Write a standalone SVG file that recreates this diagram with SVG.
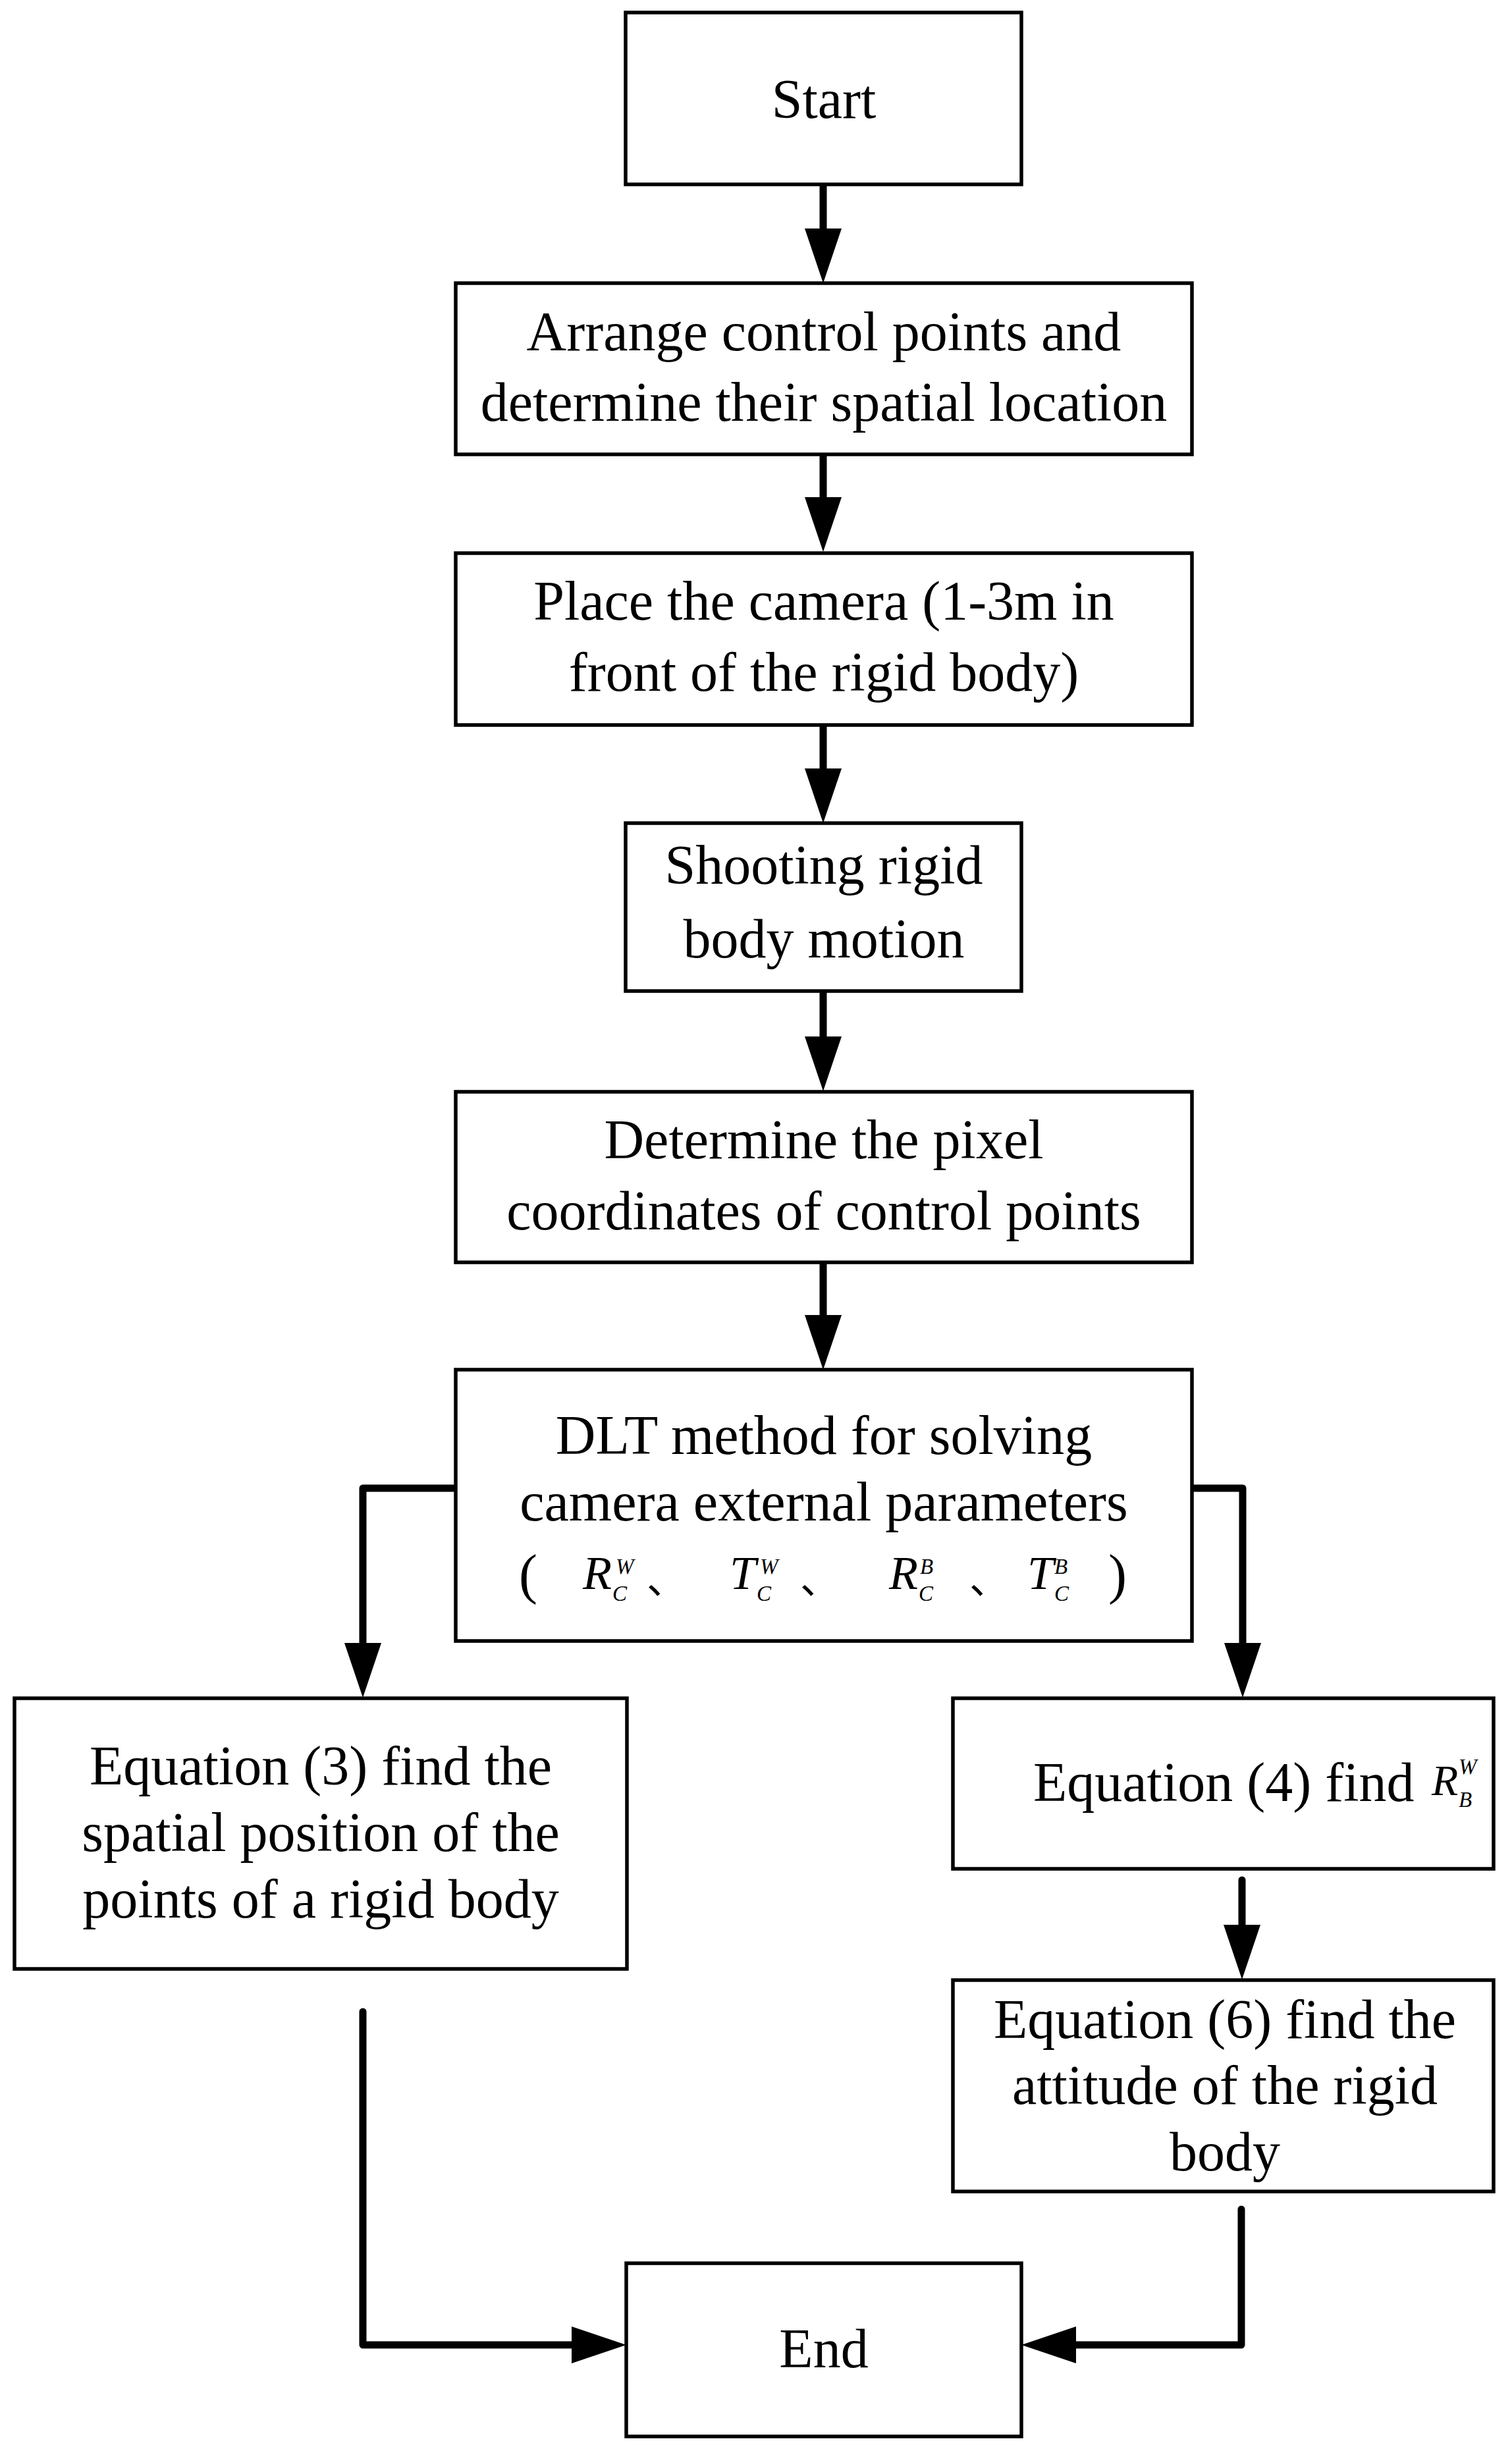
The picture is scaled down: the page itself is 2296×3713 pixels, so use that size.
<svg xmlns="http://www.w3.org/2000/svg" width="2296" height="3713" viewBox="0 0 2296 3713">
  <style>
    .box { fill: #ffffff; stroke: #000000; stroke-width: 5.5; }
    .t { font-family: "Liberation Serif", "Times New Roman", serif; font-size: 84px; fill: #000000; }
    .c { text-anchor: middle; }
    .m { font-family: "Liberation Serif", "Times New Roman", serif; font-style: italic; font-size: 72px; }
    .m2 { font-family: "Liberation Serif", "Times New Roman", serif; font-style: italic; font-size: 66px; }
    .s { font-family: "Liberation Serif", "Times New Roman", serif; font-style: italic; font-size: 33px; }
    .k { font-family: "Noto Sans CJK SC", "Liberation Serif", sans-serif; font-size: 60px; font-style: normal; }
    .con { fill: none; stroke: #000000; stroke-width: 11; stroke-linecap: round; stroke-linejoin: round; }
  </style>
  <defs>
    <marker id="arrow" viewBox="0 0 83 56" refX="0" refY="28" markerWidth="83" markerHeight="56" markerUnits="userSpaceOnUse" orient="auto">
      <path d="M0,0 L83,28 L0,56 Z" fill="#000000"/>
    </marker>
  </defs>
  <rect width="2296" height="3713" fill="#ffffff"/>

  <g id="connectors">
    <path class="con" d="M1250,280 V347" marker-end="url(#arrow)"/>
    <path class="con" d="M1250,690 V755" marker-end="url(#arrow)"/>
    <path class="con" d="M1250,1101 V1167" marker-end="url(#arrow)"/>
    <path class="con" d="M1250,1505 V1574" marker-end="url(#arrow)"/>
    <path class="con" d="M1250,1917 V1997" marker-end="url(#arrow)"/>
    <path class="con" d="M692,2260 H551 V2495" marker-end="url(#arrow)"/>
    <path class="con" d="M1810,2260 H1887 V2495" marker-end="url(#arrow)"/>
    <path class="con" d="M1886,2855 V2923" marker-end="url(#arrow)"/>
    <path class="con" d="M551,3055 V3561 H868" marker-end="url(#arrow)"/>
    <path class="con" d="M1885,3355 V3561 H1634" marker-end="url(#arrow)"/>
  </g>

  <g id="start">
    <rect class="box" x="950" y="19" width="601" height="261"/>
    <text class="t c" x="1251" y="179">Start</text>
  </g>

  <g id="arrange">
    <rect class="box" x="692" y="430" width="1118" height="260"/>
    <text class="t c" x="1251" y="532">Arrange control points and</text>
    <text class="t c" x="1251" y="639">determine their spatial location</text>
  </g>

  <g id="place">
    <rect class="box" x="692" y="840" width="1118" height="261"/>
    <text class="t c" x="1251" y="941">Place the camera (1-3m in</text>
    <text class="t c" x="1251" y="1049">front of the rigid body)</text>
  </g>

  <g id="shooting">
    <rect class="box" x="950" y="1250" width="601" height="255"/>
    <text class="t c" x="1251" y="1342">Shooting rigid</text>
    <text class="t c" x="1251" y="1454">body motion</text>
  </g>

  <g id="pixel">
    <rect class="box" x="692" y="1658" width="1118" height="259"/>
    <text class="t c" x="1251" y="1759">Determine the pixel</text>
    <text class="t c" x="1251" y="1867">coordinates of control points</text>
  </g>

  <g id="dlt">
    <rect class="box" x="692" y="2080" width="1118" height="412"/>
    <text class="t c" x="1251" y="2208">DLT method for solving</text>
    <text class="t c" x="1251" y="2309">camera external parameters</text>
    <text class="t"><tspan x="788" y="2419">(</tspan><tspan class="m" x="885" y="2413">R</tspan><tspan class="s" x="935" y="2390">W</tspan><tspan class="s" x="930" y="2431">C</tspan><tspan class="k" x="982" y="2420">、</tspan><tspan class="m" x="1108" y="2413">T</tspan><tspan class="s" x="1154" y="2390">W</tspan><tspan class="s" x="1149" y="2431">C</tspan><tspan class="k" x="1215" y="2420">、</tspan><tspan class="m" x="1350" y="2413">R</tspan><tspan class="s" x="1397" y="2390">B</tspan><tspan class="s" x="1395" y="2431">C</tspan><tspan class="k" x="1472" y="2420">、</tspan><tspan class="m" x="1560" y="2413">T</tspan><tspan class="s" x="1601" y="2390">B</tspan><tspan class="s" x="1601" y="2431">C</tspan><tspan x="1683" y="2419">)</tspan></text>
  </g>

  <g id="eq3">
    <rect class="box" x="22" y="2579" width="930" height="411"/>
    <text class="t c" x="487" y="2710">Equation (3) find the</text>
    <text class="t c" x="487" y="2811">spatial position of the</text>
    <text class="t c" x="487" y="2912">points of a rigid body</text>
  </g>

  <g id="eq4">
    <rect class="box" x="1447" y="2579" width="821" height="259"/>
    <text class="t"><tspan x="1569" y="2735">Equation (4) find</tspan><tspan class="m2" x="2174" y="2726">R</tspan><tspan class="s" x="2215" y="2694">W</tspan><tspan class="s" x="2215" y="2744">B</tspan></text>
  </g>

  <g id="eq6">
    <rect class="box" x="1447" y="3007" width="821" height="321"/>
    <text class="t c" x="1860" y="3095">Equation (6) find the</text>
    <text class="t c" x="1860" y="3195">attitude of the rigid</text>
    <text class="t c" x="1860" y="3296">body</text>
  </g>

  <g id="end">
    <rect class="box" x="951" y="3437" width="600" height="263"/>
    <text class="t c" x="1251" y="3595">End</text>
  </g>
</svg>
